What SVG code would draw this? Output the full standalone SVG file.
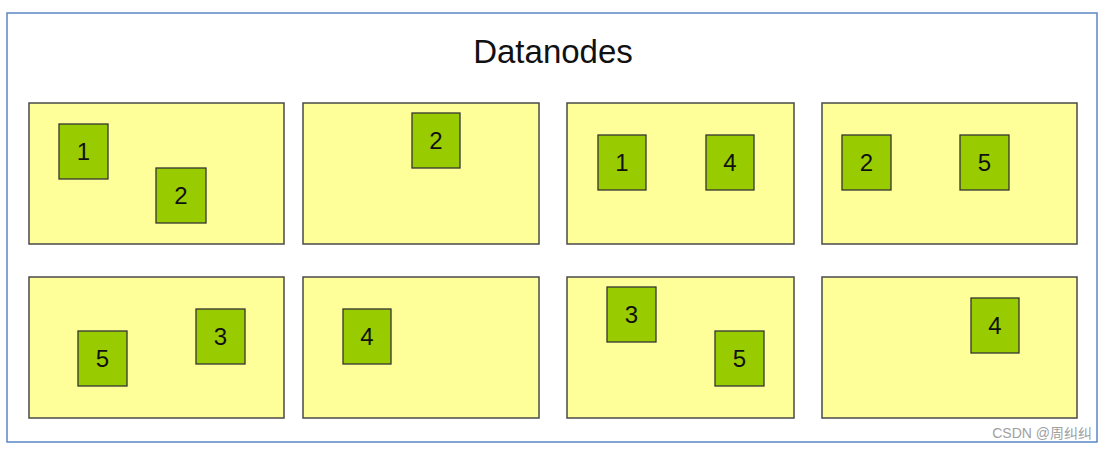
<svg xmlns="http://www.w3.org/2000/svg" width="1105" height="450" viewBox="0 0 1105 450">
<style>
.node{fill:#ffff99;stroke:#4a4a4a;stroke-width:1.5}
.blk{fill:#99cc00;stroke:#333333;stroke-width:1.3}
.num{font-family:"Liberation Sans",Arial,sans-serif;font-size:24px;fill:#111;text-anchor:middle}
</style>
<rect x="0" y="0" width="1105" height="450" fill="#ffffff"/>
<rect x="7" y="13" width="1090" height="429" fill="#ffffff" stroke="#5b87c5" stroke-width="1.5"/>
<text x="553" y="63" font-family="'Liberation Sans',Arial,sans-serif" font-size="33" fill="#111" text-anchor="middle">Datanodes</text>
<g id="dn1"><rect class="node" x="29" y="103" width="255" height="141"/>
<rect class="blk" x="59" y="124" width="49" height="55"/><text class="num" x="83.5" y="160">1</text>
<rect class="blk" x="156" y="168" width="50" height="55"/><text class="num" x="181" y="204">2</text></g>
<g id="dn2"><rect class="node" x="303" y="103" width="236" height="141"/>
<rect class="blk" x="412" y="113" width="48" height="55"/><text class="num" x="436" y="149">2</text></g>
<g id="dn3"><rect class="node" x="567" y="103" width="227" height="141"/>
<rect class="blk" x="598" y="135" width="48" height="55"/><text class="num" x="622" y="171">1</text>
<rect class="blk" x="706" y="135" width="48" height="55"/><text class="num" x="730" y="171">4</text></g>
<g id="dn4"><rect class="node" x="822" y="103" width="255" height="141"/>
<rect class="blk" x="842" y="135" width="49" height="55"/><text class="num" x="866.5" y="171">2</text>
<rect class="blk" x="960" y="135" width="49" height="55"/><text class="num" x="984.5" y="171">5</text></g>
<g id="dn5"><rect class="node" x="29" y="277" width="255" height="141"/>
<rect class="blk" x="78" y="331" width="49" height="55"/><text class="num" x="102.5" y="367">5</text>
<rect class="blk" x="196" y="309" width="49" height="55"/><text class="num" x="220.5" y="345">3</text></g>
<g id="dn6"><rect class="node" x="303" y="277" width="236" height="141"/>
<rect class="blk" x="343" y="309" width="48" height="55"/><text class="num" x="367" y="345">4</text></g>
<g id="dn7"><rect class="node" x="567" y="277" width="227" height="141"/>
<rect class="blk" x="607" y="287" width="49" height="55"/><text class="num" x="631.5" y="323">3</text>
<rect class="blk" x="715" y="331" width="49" height="55"/><text class="num" x="739.5" y="367">5</text></g>
<g id="dn8"><rect class="node" x="822" y="277" width="255" height="141"/>
<rect class="blk" x="971" y="298" width="48" height="55"/><text class="num" x="995" y="334">4</text></g>
<g id="connectors"></g>
<text x="1092" y="438" font-family="'Liberation Sans','Noto Sans CJK SC',sans-serif" font-size="14" fill="#a0a0a0" text-anchor="end">CSDN @周纠纠</text>
</svg>
